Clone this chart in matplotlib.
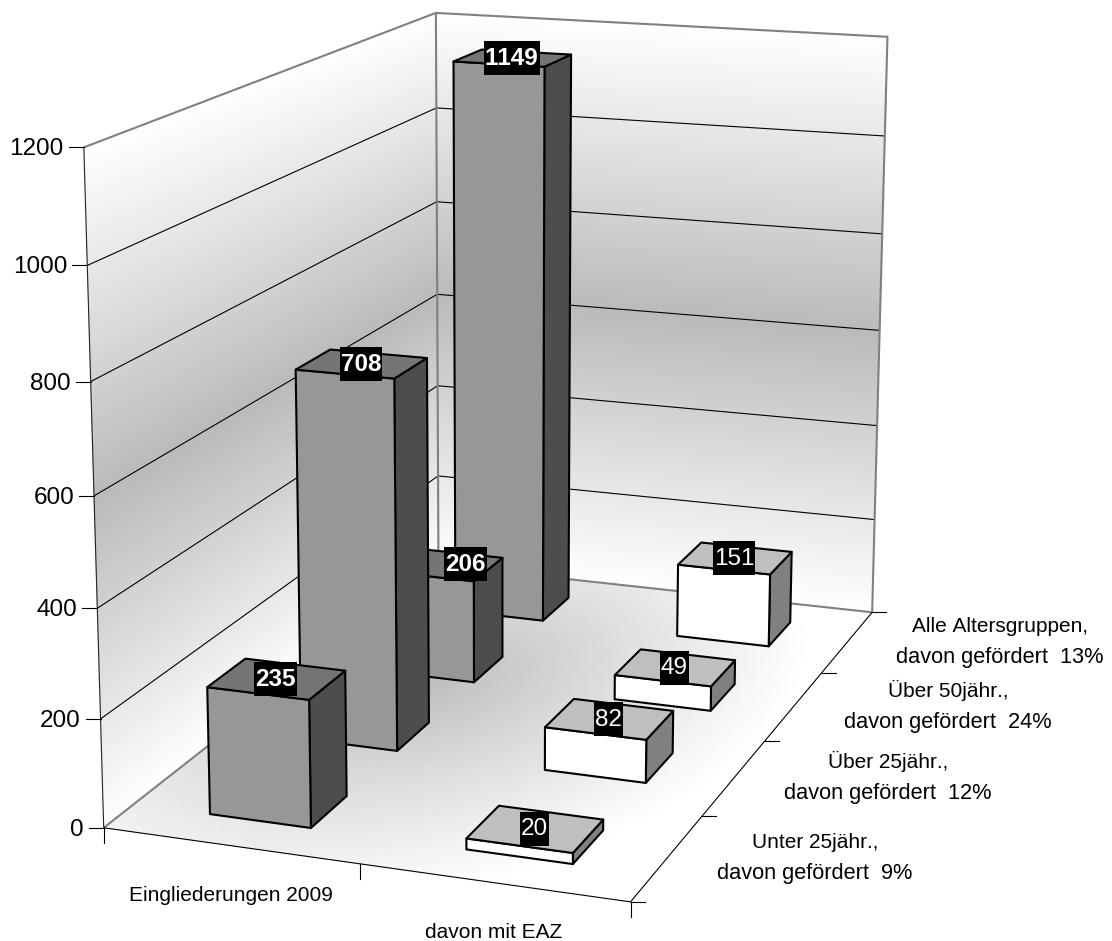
import numpy as np
import matplotlib
matplotlib.use('Agg')
import matplotlib.pyplot as plt
from matplotlib.lines import Line2D
from matplotlib.patches import Rectangle
from mpl_toolkits.mplot3d.art3d import Poly3DCollection, Line3DCollection

plt.rcParams['font.family'] = ['Liberation Sans', 'DejaVu Sans']
plt.rcParams['text.kerning_factor'] = 6

# Chart values
categories = ['Eingliederungen 2009', 'davon mit EAZ']
series = ['Unter 25jähr.', 'Über 25jähr.', 'Über 50jähr.', 'Alle Altersgruppen']
shares = ['9%', '12%', '24%', '13%']
eingliederungen = [235, 708, 206, 1149]
davon_eaz = [20, 82, 49, 151]
z_ticks = [0, 200, 400, 600, 800, 1000, 1200]

# Where the corners of the chart box land in the picture: (x, y, z) -> pixel
corners = [((0, 0, 0), (105, 828)), ((2, 0, 0), (630, 902)),
           ((0, 4, 0), (437, 565)), ((2, 4, 0), (873, 612)),
           ((0, 0, 1200), (83, 147)), ((0, 4, 1200), (437, 13)),
           ((2, 4, 1200), (887, 37))]


def camera_matrix(pairs):
    # plain DLT, z scaled so the system is not badly conditioned
    rows = []
    for (x, y, z), (u, v) in pairs:
        p = [x, y, z / 300, 1]
        rows.append(p + [0, 0, 0, 0] + [-u * c for c in p])
        rows.append([0, 0, 0, 0] + p + [-v * c for c in p])
    P = np.linalg.svd(np.array(rows, float))[2][-1].reshape(3, 4)
    P[:, 2] /= 300
    centre = np.linalg.svd(P)[2][-1]
    return np.vstack([P[0], P[1], centre / np.linalg.norm(centre), P[2]])


M = camera_matrix(corners)


def to_pixel(x, y, z):
    v = M @ np.array([x, y, z, 1.0])
    return v[0] / v[3], v[1] / v[3]


fig = plt.figure(figsize=(11.12, 9.41), dpi=100)
ax = fig.add_axes([0, 0, 1, 1], projection='3d', computed_zorder=False)
ax.set_axis_off()
ax.apply_aspect = lambda position=None: None
ax.get_proj = lambda: M
ax.viewLim.intervalx = (0, 1112)
ax.viewLim.intervaly = (941, 0)


def add_faces(faces, colors, zorder, edge=None, lw=0.6):
    col = Poly3DCollection(faces, facecolors=colors, edgecolors=edge if edge else colors,
                           linewidths=lw, zorder=zorder)
    ax.add_collection3d(col, autolim=False)


def add_line(points, color, lw, zorder):
    col = Line3DCollection([points], colors=color, linewidths=lw, zorder=zorder)
    ax.add_collection3d(col, autolim=False)


# Wall gradient: white at top and bottom, grey in the middle
zs = np.linspace(0, 1200, 121)
back, left, wall_colors = [], [], []
for z0, z1 in zip(zs[:-1], zs[1:]):
    t = (z0 + z1) / 2 / 1200
    g = 1 - 0.27 * (1 - abs(2 * t - 1))
    back.append([(0, 4, z0), (2, 4, z0), (2, 4, z1), (0, 4, z1)])
    left.append([(0, 0, z0), (0, 4, z0), (0, 4, z1), (0, 0, z1)])
    wall_colors.append((g, g, g))
add_faces(back, wall_colors, 1)
add_faces(left, wall_colors, 1)

# Floor gradient, darkest behind the tall bars
floor, floor_colors = [], []
xs = np.linspace(0, 2, 61)
ys = np.linspace(0, 4, 61)
for x0, x1 in zip(xs[:-1], xs[1:]):
    for y0, y1 in zip(ys[:-1], ys[1:]):
        r = np.hypot((x0 + x1) / 4 - 0.25, (y0 + y1) / 8 - 0.55)
        g = min(1, 0.74 + 0.26 * r / 0.74)
        floor.append([(x0, y0, 0), (x1, y0, 0), (x1, y1, 0), (x0, y1, 0)])
        floor_colors.append((g, g, g))
add_faces(floor, floor_colors, 1)

# Gridlines
for v in z_ticks[1:-1]:
    add_line([(0, 0, v), (0, 4, v), (2, 4, v)], 'black', 0.8, 2)

# Wall borders
grey = '#808080'
add_line([(0, 0, 1200), (0, 4, 1200), (2, 4, 1200), (2, 4, 0)], grey, 1.5, 2)
add_line([(0, 0, 0), (0, 4, 0), (2, 4, 0)], grey, 1.5, 2)
add_line([(0, 4, 0), (0, 4, 1200)], grey, 1.5, 2)

# Axis lines
add_line([(0, 0, 0), (0, 0, 1200)], '#222222', 0.8, 3)
add_line([(0, 0, 0), (2, 0, 0), (2, 4, 0)], 'black', 0.8, 3)

# Bars, back to front
bar_w = 0.40
bar_d = 0.40
bar_shift = 0.005
styles = [('#979797', '#757575', '#4d4d4d'), ('#ffffff', '#bfbfbf', '#808080')]
labels = []
for j in range(3, -1, -1):
    for i, values in enumerate([eingliederungen, davon_eaz]):
        h = values[j]
        xc = i + 0.5 + bar_shift
        x0, x1 = xc - bar_w / 2, xc + bar_w / 2
        y0, y1 = j + 0.5 - bar_d / 2, j + 0.5 + bar_d / 2
        front = [(x0, y0, 0), (x1, y0, 0), (x1, y0, h), (x0, y0, h)]
        top = [(x0, y0, h), (x1, y0, h), (x1, y1, h), (x0, y1, h)]
        side = [(x1, y0, 0), (x1, y1, 0), (x1, y1, h), (x1, y0, h)]
        add_faces([front, top, side], list(styles[i]), 10 + (3 - j), edge='black', lw=1.5)
        labels.append((to_pixel(xc, j + 0.5, h), str(h), 'bold' if i == 0 else 'normal'))

# Data labels, white on black on the middle of the bar top
# (the 206 label sits over the part of its bar top that the 708 bar leaves visible)
for (px, py), text, weight in labels:
    px = px - 1 + (24 if text == '206' else 0)
    w = len(text) * 13.5 + 2
    fig.add_artist(Rectangle((px - w / 2, py - 17), w, 34, transform=ax.transData,
                             facecolor='black', edgecolor='none', zorder=5))
    fig.text(px, py + 0.5, text, transform=ax.transData, color='white', fontsize=17.5,
             fontweight=weight, ha='center', va='center', zorder=6)


def tick(px, py, dx, dy):
    fig.add_artist(Line2D([px, px + dx], [py, py + dy], transform=ax.transData,
                          color='black', lw=0.8, zorder=4))


# Value axis
for v in z_ticks:
    px, py = to_pixel(0, 0, v)
    tick(px, py, -15, 0)
    fig.text(px - 20, py + 2, str(v), transform=ax.transData, fontsize=17.5, ha='right', va='center')

# Category axis
for i in range(3):
    px, py = to_pixel(i, 0, 0)
    tick(px, py, 0, 15)
fig.text(231, 901, categories[0], transform=ax.transData, fontsize=15, ha='center', va='baseline')
fig.text(494, 938, categories[1], transform=ax.transData, fontsize=15, ha='center', va='baseline')

# Series axis
for j in range(5):
    px, py = to_pixel(2, j, 0)
    tick(px, py, 14, 0)
label_x = [815, 888, 948, 1000]
label_base = [848, 768, 697, 632]
for name, share, lx, base in zip(series, shares, label_x, label_base):
    fig.text(lx, base, name + ',', transform=ax.transData, fontsize=15, ha='center', va='baseline')
    fig.text(lx, base + 31, 'davon gefördert  ' + share, transform=ax.transData, fontsize=15.7,
             ha='center', va='baseline')

fig.savefig('out.png', dpi=100)
